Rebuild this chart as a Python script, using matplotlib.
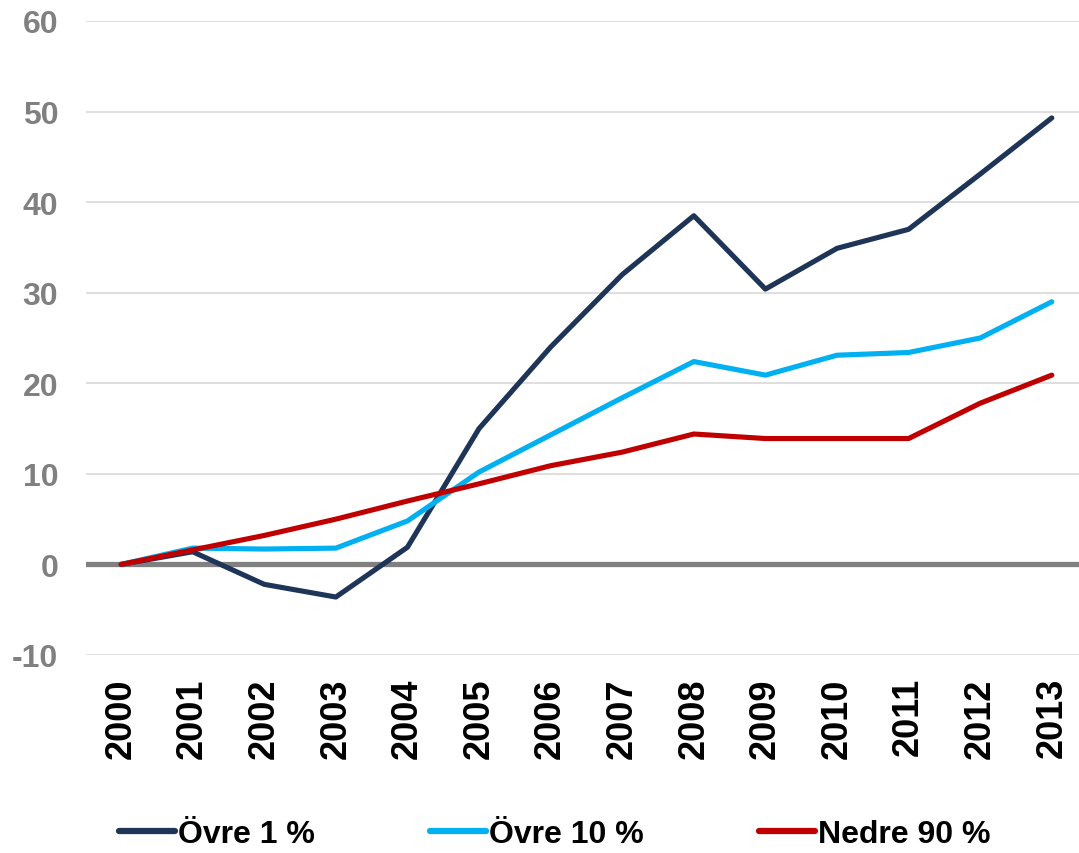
import matplotlib
matplotlib.use("Agg")
import matplotlib.pyplot as plt

years = [str(y) for y in range(2000, 2014)]
ovre1 = [0, 1.4, -2.2, -3.6, 1.9, 15.0, 24.0, 32.0, 38.5, 30.4, 34.9, 37.0, 43.1, 49.3]
ovre10 = [0, 1.8, 1.7, 1.8, 4.8, 10.2, 14.3, 18.4, 22.4, 20.9, 23.1, 23.4, 25.0, 29.0]
nedre90 = [0, 1.6, 3.2, 5.0, 7.0, 8.9, 10.9, 12.4, 14.4, 13.9, 13.9, 13.9, 17.8, 20.9]
labels = ["Övre 1 %", "Övre 10 %", "Nedre 90 %"]
colors = ["#1F3558", "#00B0F0", "#C00000"]
yticks = [-10, 0, 10, 20, 30, 40, 50, 60]

plt.rcParams['font.family'] = ['Liberation Sans', 'DejaVu Sans']
fig = plt.figure(figsize=(10.79, 8.54), dpi=100)
ax = fig.add_axes([86/1079, (854-656)/854, (1079-86)/1079, (656-22)/854])

x = list(range(len(years)))
ax.axhline(0, color="#808080", lw=3.8, zorder=1)
for series, lab, c in zip([ovre1, ovre10, nedre90], labels, colors):
    ax.plot(x, series, color=c, lw=3.7, label=lab, zorder=3, solid_joinstyle='round', solid_capstyle='round')

ax.set_ylim(-10, 60)
ax.set_xlim(-0.49, 13.38)
ax.set_yticks(yticks)
ax.set_yticklabels([str(v) for v in yticks], fontsize=23, fontweight='bold', color="#808080")
ax.set_xticks(x)
ax.set_xticklabels(years, rotation=90, fontsize=26, fontweight='bold', color="black")
ax.tick_params(axis='both', length=0)
ax.tick_params(axis='y', pad=20)
ax.tick_params(axis='x', pad=16)
ax.grid(axis='y', color="#D9D9D9", lw=1.2, zorder=0)
ax.set_axisbelow(True)
for s in ax.spines.values():
    s.set_visible(False)

leg = fig.legend(loc='center', bbox_to_anchor=(555/1079, (854-835)/854), ncol=3, frameon=False,
                 prop={'size': 23, 'weight': 'bold'}, handlelength=1.75, handletextpad=0.1,
                 columnspacing=3.6)
for line in leg.get_lines():
    line.set_linewidth(4.5)

fig.savefig("out.png", dpi=100)
